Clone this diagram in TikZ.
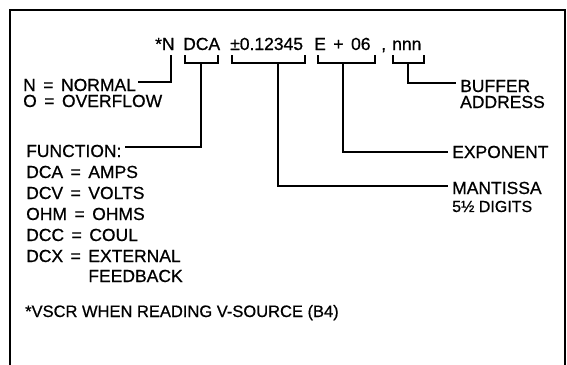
\documentclass[tikz,border=0pt]{standalone}
\usepackage{fontspec}
\setmainfont{Liberation Sans}[FakeBold=0.7]
\newcommand\eqgap{\hspace{7.5pt}}
\begin{document}
\begin{tikzpicture}[x=1pt,y=-1pt,
  txt/.style={inner sep=0pt, anchor=base west, font=\fontsize{17.5}{17.5}\selectfont},
  small/.style={inner sep=0pt, anchor=base west, font=\fontsize{16}{16}\selectfont},
  notefont/.style={inner sep=0pt, anchor=base west, font=\fontsize{16.5}{16.5}\selectfont},
  conn/.style={line width=1.8pt},
  brk/.style={line width=1.5pt},
  frame/.style={line width=2.6pt}]
\useasboundingbox (0,0) rectangle (567,364);
\draw[frame] (10,368) -- (10,10) -- (565,10) -- (565,368);

% header
\node[txt] (hN) at (155,50) {*N};
\node[txt] (hDCA) at (183,50) {DCA};
\node[txt] (hMant) at (230,50) {±0.12345};
\node[txt] (hExp) at (314,50) {E\hspace{7.5pt}+\hspace{7.5pt}06};
\node[txt] (hComma) at (381,50) {,};
\node[txt] (hBuf) at (392,50) {nnn};

% left labels
\node[txt] (normal) at (23,91) {N\eqgap=\eqgap NORMAL};
\node[txt] (overflow) at (23,107) {O\eqgap=\eqgap OVERFLOW};
\node[txt] (function) at (26,157) {FUNCTION:};
\node[txt] (fdca) at (26,178) {DCA\eqgap=\eqgap AMPS};
\node[txt] (fdcv) at (26,199) {DCV\eqgap=\eqgap VOLTS};
\node[txt] (fohm) at (26,220) {OHM\eqgap=\eqgap OHMS};
\node[txt] (fdcc) at (26,241) {DCC\eqgap=\eqgap COUL};
\node[txt] (fdcx) at (26,262) {DCX\eqgap=\eqgap EXTERNAL};
\node[txt] (ffb) at (26,282) {\phantom{DCX\eqgap=\eqgap}FEEDBACK};
\node[notefont] (note) at (25,317) {*VSCR WHEN READING V-SOURCE (B4)};

% right labels
\node[txt] (buffer) at (460,92) {BUFFER};
\node[txt] (address) at (460,108) {ADDRESS};
\node[txt] (exponent) at (452,158) {EXPONENT};
\node[txt] (mantissa) at (452,194) {MANTISSA};
\node[small] (digits) at (452,212) {5½ DIGITS};

% bracket stems
\coordinate (tN) at (171,55);
\coordinate (bDCA) at (201,63);
\coordinate (bMant) at (278,63);
\coordinate (bExp) at (343,63);
\coordinate (bBuf) at (408,63);

% brackets
\draw[brk] (185,55) -- (185,63) -- (218,63) -- (218,55);
\draw[brk] (232,55) -- (232,63) -- (305,63) -- (305,55);
\draw[brk] (318,55) -- (318,63) -- (375,63) -- (375,55);
\draw[brk] (393,55) -- (393,63) -- (424,63) -- (424,55);

% connectors
\draw[conn] (tN) |- ([xshift=2pt,yshift=3pt]normal.east);
\draw[conn] (bDCA) |- ([xshift=3pt,yshift=4pt]function.east);
\draw[conn] (bMant) |- ([xshift=-4pt,yshift=2pt]mantissa.west);
\draw[conn] (bExp) |- ([xshift=-4pt]exponent.west);
\draw[conn] (bBuf) |- ([xshift=-4pt,yshift=3pt]buffer.west);
\end{tikzpicture}
\end{document}
